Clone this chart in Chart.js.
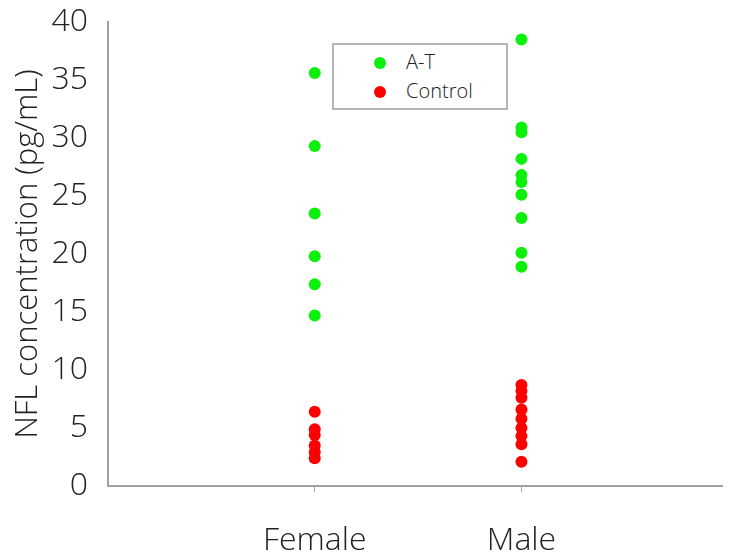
<!DOCTYPE html>
<html>
<head>
<meta charset="utf-8">
<script src="https://cdn.jsdelivr.net/npm/chart.js@4/dist/chart.umd.min.js"></script>
<style>
  html, body { margin: 0; padding: 0; background: #fff; }
  #wrap { position: relative; width: 732px; height: 555px; }
  #legend {
    position: absolute; left: 332px; top: 43px; width: 172px; height: 63px;
    border: 2px solid #b5b5b5; background: #fff; box-sizing: content-box;
    font-family: "Open Sans", sans-serif; font-size: 20px; font-weight: 300; color: #222;
  }
  .item { position: absolute; left: 0; height: 20px; }
  .dot { position: absolute; width: 12px; height: 12px; border-radius: 50%; left: 40px; top: 4px; }
  .lbl { position: absolute; left: 72px; top: -5px; white-space: nowrap; }
</style>
</head>
<body>
<div id="wrap">
  <canvas id="c" width="732" height="555"></canvas>
  <div id="legend"></div>
</div>
<script>
const categories = ['Female', 'Male'];
const seriesNames = ['A-T', 'Control'];
const seriesColors = ['rgb(12,240,12)', 'rgb(255,0,0)'];
const femaleAT = [35.6, 29.3, 23.5, 19.8, 17.4, 14.7];
const femaleControl = [6.4, 4.9, 4.4, 3.5, 2.9, 2.4];
const maleAT = [38.5, 30.9, 30.5, 28.2, 26.8, 26.2, 25.1, 23.1, 20.1, 18.9];
const maleControl = [8.7, 8.2, 7.6, 6.6, 5.8, 5.0, 4.3, 3.6, 2.1];
const yTicks = [0, 5, 10, 15, 20, 25, 30, 35, 40];

function pts(cat, vals) { return vals.map(v => ({ x: categories.indexOf(cat) + 1, y: v })); }

const datasets = [
  { label: seriesNames[0], data: pts('Female', femaleAT).concat(pts('Male', maleAT)), backgroundColor: seriesColors[0] },
  { label: seriesNames[1], data: pts('Female', femaleControl).concat(pts('Male', maleControl)), backgroundColor: seriesColors[1] }
].map(d => Object.assign(d, { pointRadius: 6, pointHoverRadius: 6, borderWidth: 0, pointBorderWidth: 0 }));

const FONT = { family: '"Open Sans", sans-serif', size: 32, weight: '300' };

new Chart(document.getElementById('c'), {
  type: 'scatter',
  data: { datasets },
  options: {
    responsive: false,
    animation: false,
    layout: { padding: { top: 0, right: 10, left: 0, bottom: 0 } },
    plugins: { legend: { display: false }, tooltip: { enabled: false }, title: { display: false } },
    scales: {
      x: {
        type: 'linear', min: 0, max: 2.97,
        afterBuildTicks: s => { s.ticks = categories.map((c, i) => ({ value: i + 1 })); },
        afterFit: s => { s.height = 69; },
        ticks: { callback: v => categories[v - 1] || '', font: FONT, color: '#222', padding: 30, autoSkip: false, maxRotation: 0 },
        grid: { drawOnChartArea: false, drawTicks: true, tickLength: 6, color: '#a8a8a8' },
        border: { color: '#a0a0a0', width: 2 }
      },
      y: {
        min: 0, max: 40,
        afterBuildTicks: s => { s.ticks = yTicks.map(v => ({ value: v })); },
        afterFit: s => { s.width = 108; s.paddingTop = 22; s.paddingBottom = 0; },
        ticks: { font: FONT, color: '#222', padding: 20 },
        grid: { drawOnChartArea: false, drawTicks: false, color: '#a8a8a8' },
        border: { color: '#a0a0a0', width: 2 },
        title: { display: true, text: 'NFL concentration (pg/mL)', font: { family: '"Open Sans", sans-serif', size: 31, weight: '300' }, color: '#222', padding: { top: 10, bottom: 0 } }
      }
    }
  }
});

const lg = document.getElementById('legend');
seriesNames.forEach((n, i) => {
  const it = document.createElement('div');
  it.className = 'item';
  it.style.top = (8 + i * 29) + 'px';
  it.style.width = '100%';
  const d = document.createElement('span'); d.className = 'dot'; d.style.background = seriesColors[i];
  const t = document.createElement('span'); t.className = 'lbl'; t.textContent = n;
  it.appendChild(d); it.appendChild(t); lg.appendChild(it);
});
</script>
</body>
</html>
